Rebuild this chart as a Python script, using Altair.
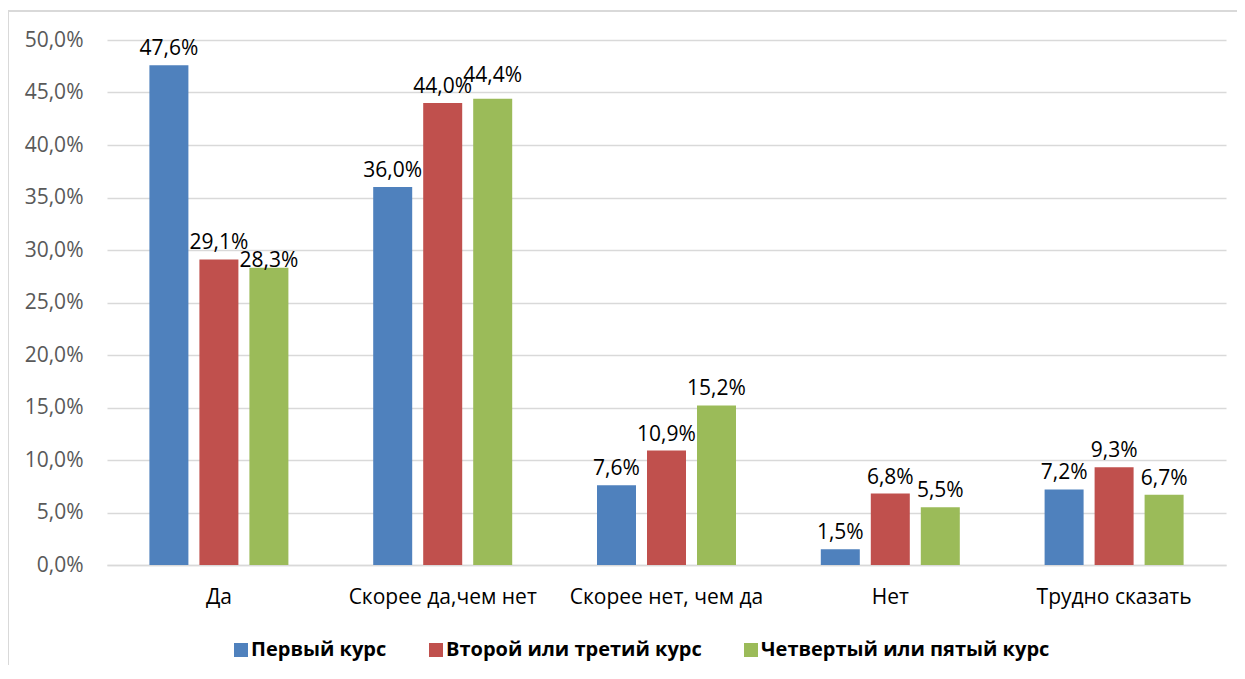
import altair as alt
import pandas as pd

categories = ["Да", "Скорее да,чем нет", "Скорее нет, чем да", "Нет", "Трудно сказать"]
series = ["Первый курс", "Второй или третий курс", "Четвертый или пятый курс"]
first_course = [47.6, 36.0, 7.6, 1.5, 7.2]
second_third = [29.1, 44.0, 10.9, 6.8, 9.3]
fourth_fifth = [28.3, 44.4, 15.2, 5.5, 6.7]
colors = ["#4F81BD", "#C0504D", "#9BBB59"]

rows = []
for s, vals in zip(series, [first_course, second_third, fourth_fifth]):
    for c, v in zip(categories, vals):
        rows.append({"cat": c, "series": s, "value": v,
                     "label": f"{v:.1f}".replace(".", ",") + "%"})
df = pd.DataFrame(rows)

W, H = 1119, 525
FONT = "Open Sans"

x = alt.X("cat:N", sort=categories, title=None,
          scale=alt.Scale(paddingInner=0, paddingOuter=0),
          axis=alt.Axis(labelAngle=0, labelFontSize=21, labelColor="#000000",
                        labelFont=FONT, ticks=False, domain=True,
                        domainColor="#d9d9d9", domainWidth=1.5,
                        labelPadding=21, labelLimit=400))
xoff = alt.XOffset("series:N", sort=series,
                   scale=alt.Scale(paddingInner=0.22, paddingOuter=0.848))
y = alt.Y("value:Q", title=None,
          scale=alt.Scale(domain=[0, 50], nice=False),
          axis=alt.Axis(values=list(range(0, 55, 5)),
                        labelExpr="replace(format(datum.value, '.1f'), '.', ',') + '%'",
                        labelFontSize=21, labelColor="#595959", labelFont=FONT,
                        ticks=False, domain=False, grid=True,
                        gridColor="#d9d9d9", gridWidth=1.5, labelPadding=24))

base = alt.Chart(df)

bars = base.mark_bar().encode(
    x=x, xOffset=xoff, y=y,
    color=alt.Color("series:N", sort=series,
                    scale=alt.Scale(domain=series, range=colors),
                    legend=alt.Legend(title=None, orient="none", direction="horizontal",
                                      legendX=124, legendY=600,
                                      symbolType="square", symbolSize=196,
                                      symbolStrokeWidth=0,
                                      labelFontSize=20, labelFontWeight="bold",
                                      labelFont=FONT, labelColor="#000000",
                                      columnPadding=39, labelOffset=0,
                                      labelLimit=400)),
)

# Label placement mimics the reference's hand-adjusted data labels
lbl_raised = ["44,4%"]
lbl_lowered = ["28,3%"]
cond_normal = "indexof(['44,4%','28,3%'], datum.label) < 0"

labels = base.transform_filter(cond_normal).mark_text(
    baseline="alphabetic", dy=-10, fontSize=21, font=FONT, color="#000000"
).encode(x=x, xOffset=xoff, y=y, text="label:N")

labels_up = base.transform_filter(
    alt.FieldOneOfPredicate(field="label", oneOf=lbl_raised)
).mark_text(baseline="alphabetic", dy=-17, fontSize=21, font=FONT,
            color="#000000").encode(x=x, xOffset=xoff, y=y, text="label:N")

labels_down = base.transform_filter(
    alt.FieldOneOfPredicate(field="label", oneOf=lbl_lowered)
).mark_text(baseline="alphabetic", dy=-1, fontSize=21, font=FONT,
            color="#000000").encode(x=x, xOffset=xoff, y=y, text="label:N")

border_left = alt.Chart(df).mark_rule(color="#d9d9d9", strokeWidth=1.5).encode(
    x=alt.value(-99), y=alt.value(-29), y2=alt.value(H + 120)
)
border_top = alt.Chart(df).mark_rule(color="#d9d9d9", strokeWidth=1.5).encode(
    x=alt.value(-99), x2=alt.value(W + 30), y=alt.value(-29)
)

chart = alt.layer(bars, labels, labels_up, labels_down, border_left, border_top).properties(
    width=W, height=H,
    autosize=alt.AutoSizeParams(type="none"),
    padding={"left": 99, "top": 32, "right": 11, "bottom": 100},
    background="#ffffff",
).configure_view(stroke=None)

chart.save("out.html", embed_options={"renderer": "svg", "actions": False})
